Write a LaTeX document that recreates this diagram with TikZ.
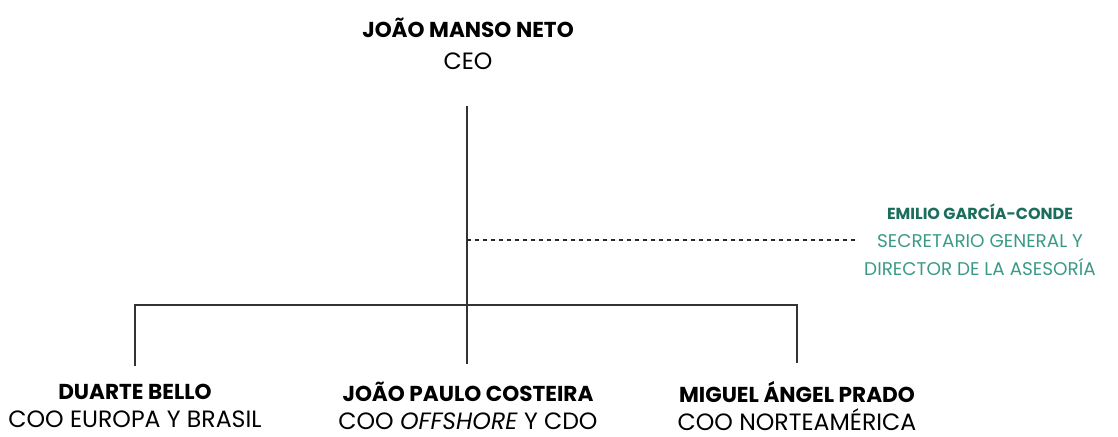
\documentclass[tikz,border=0pt]{standalone}
\usepackage{fontspec}
\setmainfont{Poppins}
\usetikzlibrary{positioning}

\definecolor{secname}{RGB}{27,110,94}
\definecolor{secrole}{RGB}{58,154,134}

% name lines are set a bit smaller than the role lines
\newcommand{\pname}[1]{{\fontsize{10.8}{14}\selectfont\bfseries #1}}
\newcommand{\aname}[1]{{\fontsize{8}{14}\selectfont\bfseries\color{secname}#1}}

\begin{document}
\begin{tikzpicture}[x=0.5pt, y=-0.5pt,
    person/.style={align=center, inner sep=1pt, font=\fontsize{11.8}{14}\selectfont},
    aide/.style={align=center, inner sep=1pt, font=\fontsize{9.2}{14}\selectfont, text=secrole},
    link/.style={draw=black!80, line width=0.9pt},
    dotted link/.style={draw=black!85, line width=0.7pt, dash pattern=on 2.2pt off 1.8pt}
]
    \useasboundingbox (0,0) rectangle (1118,437);

    % People
    \node[person, font=\fontsize{11.8}{16}\selectfont] (ceo) at (468,44) {\pname{JOÃO MANSO NETO}\\CEO};
    \node[person] (bello) at (135,406) {\pname{DUARTE BELLO}\\COO EUROPA Y BRASIL};
    \node[person] (costeira) at (468,406) {\pname{JOÃO PAULO COSTEIRA}\\COO \textit{OFFSHORE} Y CDO};
    \node[person] (prado) at (797,406) {\pname{MIGUEL ÁNGEL PRADO}\\COO NORTEAMÉRICA};
    \node[aide] (garcia) at (980,240) {\aname{EMILIO GARCÍA-CONDE}\\SECRETARIO GENERAL Y\\DIRECTOR DE LA ASESORÍA};

    % Hierarchy lines
    \coordinate (bar) at (467,305);
    \coordinate (staff) at (467,240);
    \draw[link] ([yshift=-17pt]ceo.south -| bar) -- ([yshift=8pt]costeira.north -| bar);
    \draw[link] ([yshift=8pt]bello.north) |- (bar) -| ([yshift=8pt]prado.north);
    \draw[dotted link] (staff) -- ([xshift=-3pt]garcia.west);
\end{tikzpicture}
\end{document}
